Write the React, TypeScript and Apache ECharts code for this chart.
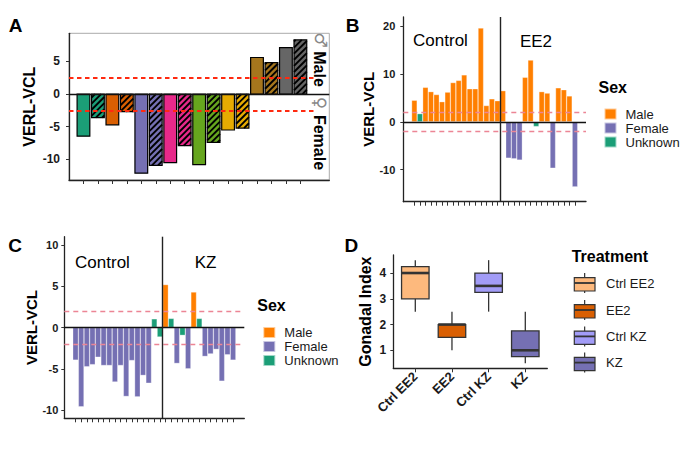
import React, { useEffect, useRef } from 'react';
import * as echarts from 'echarts';

const FONT = "'Liberation Sans', Arial, Helvetica, sans-serif";

// ---------- Panel A ----------
const aValues = [-6.45, -3.6, -4.7, -2.7, -12.1, -10.9, -10.5, -7.9, -10.8, -7.4, -5.5, -5.2, 5.6, 4.8, 7.1, 8.3];
const aHatched = [false, true, false, true, false, true, false, true, false, true, false, true, false, true, false, true];
const aThreshold = 2.5;
const aYTicks = [-10, -5, 0, 5];
const aStrip = ['Male', 'Female'];

// ---------- Panel B ----------
const bGroups = ['Control', 'EE2'];
const bControlN = 16;
const bValues = [4.5, 1.7, 7.2, 6.3, 5.7, 4.2, 6.2, 8.2, 8.65, 9.8, 6.9, 6.9, 19.6, 3.4, 4.8, 4.4,
  6.5, -7.6, -7.75, -8.0, 9.3, 12.9, -1.0, 6.3, 6.0, -9.7, 7.1, 6.7, 5.4, -13.6];
const bSex = ['Male', 'Unknown', 'Male', 'Male', 'Male', 'Male', 'Male', 'Male', 'Male', 'Male', 'Male', 'Male', 'Male', 'Male', 'Male', 'Male',
  'Male', 'Female', 'Female', 'Female', 'Male', 'Male', 'Unknown', 'Male', 'Male', 'Female', 'Male', 'Male', 'Male', 'Female'];
const bYTicks = [-10, 0, 10, 20];

// ---------- Panel C ----------
const cGroups = ['Control', 'KZ'];
const cControlN = 16;
const cValues = [-3.95, -9.6, -4.75, -4.5, -3.6, -4.6, -4.6, -6.6, -4.6, -8.35, -4.0, -8.4, -5.8, -6.75, 1.05, -1.15,
  5.2, 1.1, -4.35, -0.95, -5.0, 4.3, 1.1, -3.5, -3.2, -2.65, -6.5, -3.3, -3.95];
const cSex = ['Female', 'Female', 'Female', 'Female', 'Female', 'Female', 'Female', 'Female', 'Female', 'Female', 'Female', 'Female', 'Female', 'Female', 'Unknown', 'Unknown',
  'Male', 'Unknown', 'Female', 'Unknown', 'Female', 'Male', 'Unknown', 'Female', 'Female', 'Female', 'Female', 'Female', 'Female'];
const cYTicks = [-10, -5, 0, 5, 10];

const sexLevels = ['Male', 'Female', 'Unknown'];
const sexThreshold = 2;

// ---------- Panel D ----------
const dCategories = ['Ctrl EE2', 'EE2', 'Ctrl KZ', 'KZ'];
const dMin = [2.5, 1.0, 2.5, 0.5];
const dQ1 = [3.0, 1.5, 3.25, 0.75];
const dMedian = [4.0, 2.0, 3.5, 1.0];
const dQ3 = [4.25, 2.0, 4.0, 1.75];
const dMax = [4.5, 2.5, 4.5, 2.5];
const dYTicks = [1, 2, 3, 4];

// ---------- styles ----------
const aPalette = ['#1B9E77', '#D95F02', '#7570B3', '#E7298A', '#66A61E', '#E6AB02', '#A6761D', '#666666'];
const sexColors: Record<string, string> = { Male: '#FF7F00', Female: '#7570B3', Unknown: '#1B9E77' };
const dColors = ['#FDB97D', '#D95F02', '#A29CF7', '#7570B3'];
const INK = '#1a1a1a';

const tickLabel = (size: number, margin: number) => ({
  fontSize: size, fontWeight: 'bold' as const, color: INK, fontFamily: FONT, margin,
});
const axisLine = { show: true, onZero: false, lineStyle: { color: '#222', width: 1.3 } };
const yName = { fontSize: 15, fontWeight: 'bold' as const, color: '#000', fontFamily: FONT };

function padCats(prefix: string, n: number, before: number, after: number) {
  const out: string[] = [];
  for (let i = 0; i < n + before + after; i++) out.push(prefix + i);
  return out;
}

const aCats = padCats('a', aValues.length, 1, 2);
const bCats = padCats('b', bValues.length, 2, 2);
const cCats = padCats('c', cValues.length, 2, 2);

function sexSeries(values: number[], sex: string[], cats: string[], xi: number, yi: number, withLines: boolean) {
  return sexLevels.map((s, si) => ({
    type: 'bar',
    name: s,
    xAxisIndex: xi,
    yAxisIndex: yi,
    barWidth: '100%',
    barGap: '-100%',
    itemStyle: { color: sexColors[s], borderColor: 'rgba(255,255,255,0.6)', borderWidth: 0.5 },
    data: cats.map((_, i) => {
      const k = i - 2;
      return k >= 0 && k < values.length && sex[k] === s ? values[k] : '-';
    }),
    markLine: withLines && si === 0 ? {
      silent: true, symbol: ['none', 'none'], label: { show: false }, animation: false,
      data: [
        { yAxis: sexThreshold, lineStyle: { type: [5, 4], color: '#EC8595', width: 1.3 } },
        { yAxis: -sexThreshold, lineStyle: { type: [5, 4], color: '#EC8595', width: 1.3 } },
        { yAxis: 0, lineStyle: { type: 'solid', color: '#111', width: 1.4 } },
      ],
    } : undefined,
  }));
}

function separator(xi: number, yi: number, pos: number) {
  return {
    type: 'line', xAxisIndex: xi, yAxisIndex: yi, symbol: 'none', silent: true,
    lineStyle: { width: 0 },
    data: [[pos, 0]],
    markLine: {
      silent: true, symbol: ['none', 'none'], label: { show: false }, animation: false,
      data: [{ xAxis: pos, lineStyle: { type: 'solid', color: '#222', width: 1.4 } }],
    },
  };
}

// "/" hatching clipped to a rectangle
function hatchLines(x0: number, x1: number, yTop: number, yBot: number) {
  const step = 6.1; // along x+y
  const out: any[] = [];
  const cStart = Math.ceil((x0 + yTop) / step) * step;
  for (let c = cStart; c <= x1 + yBot; c += step) {
    const xa = Math.max(x0, c - yBot);
    const xb = Math.min(x1, c - yTop);
    if (xb - xa > 0.2) {
      out.push({
        type: 'line',
        shape: { x1: xa, y1: c - xa, x2: xb, y2: c - xb },
        style: { stroke: '#000', lineWidth: 1.9 },
      });
    }
  }
  return out;
}

const sexLegend = (left: number, top: number) => ({
  data: sexLevels, left, top, orient: 'vertical', icon: 'rect',
  itemWidth: 12, itemHeight: 11, itemGap: 1, selectedMode: false,
  textStyle: { fontSize: 13, color: INK, fontFamily: FONT, lineHeight: 12, padding: [0, 0, 0, 4] },
});

function dKey(i: number, cy: number) {
  const x0 = 574.3, w = 20.7, cx = x0 + w / 2;
  return {
    type: 'group',
    children: [
      { type: 'line', shape: { x1: cx, y1: cy - 10, x2: cx, y2: cy + 10 }, style: { stroke: '#333', lineWidth: 1.2 } },
      { type: 'rect', shape: { x: x0, y: cy - 5.3, width: w, height: 13.3 }, style: { fill: dColors[i], stroke: '#333', lineWidth: 1.2 } },
      { type: 'line', shape: { x1: x0, y1: cy, x2: x0 + w, y2: cy }, style: { stroke: '#333', lineWidth: 1.8 } },
      { type: 'text', x: 606, y: cy, style: { text: dCategories[i], fontSize: 13, fontFamily: FONT, fill: INK, align: 'left', verticalAlign: 'middle' } },
    ],
  };
}

const panelLetter = (t: string, x: number, y: number) => ({
  type: 'text', x, y, style: { text: t, fontSize: 19, fontWeight: 'bold', fontFamily: FONT, fill: '#000', align: 'center', verticalAlign: 'middle' },
});
const plainText = (t: string, x: number, y: number, size: number, extra: any = {}) => ({
  type: 'text', x, y, ...extra,
  style: { text: t, fontSize: size, fontFamily: FONT, fill: '#000', align: 'center', verticalAlign: 'middle', ...(extra.style || {}) },
});

const option: any = {
  animation: false,
  textStyle: { fontFamily: FONT },
  grid: [
    { left: 69, top: 33.3, width: 260.3, height: 146.7, show: true, borderColor: '#aaa', borderWidth: 1, containLabel: false, outerBoundsMode: 'none' },
    { left: 403.3, top: 17, width: 182.7, height: 184.7, containLabel: false, outerBoundsMode: 'none' },
    { left: 64.3, top: 236.7, width: 180, height: 181.6, containLabel: false, outerBoundsMode: 'none' },
    { left: 393.3, top: 255, width: 154, height: 113.3, containLabel: false, outerBoundsMode: 'none' },
  ],
  xAxis: [
    {
      type: 'category', gridIndex: 0, data: aCats, boundaryGap: false, axisLine,
      axisTick: { show: true, length: 4, lineStyle: { color: '#333' }, interval: (i: number) => i >= 1 && i <= aValues.length },
      axisLabel: { show: false }, splitLine: { show: false },
    },
    {
      type: 'category', gridIndex: 1, data: bCats, boundaryGap: false, axisLine,
      axisTick: { show: true, length: 4, lineStyle: { color: '#333' }, interval: (i: number) => i >= 2 && i < bValues.length + 2 },
      axisLabel: { show: false }, splitLine: { show: false },
    },
    { type: 'value', gridIndex: 1, min: 0, max: bCats.length - 1, show: false },
    {
      type: 'category', gridIndex: 2, data: cCats, boundaryGap: false, axisLine,
      axisTick: { show: true, length: 4, lineStyle: { color: '#333' }, interval: (i: number) => i >= 2 && i < cValues.length + 2 },
      axisLabel: { show: false }, splitLine: { show: false },
    },
    { type: 'value', gridIndex: 2, min: 0, max: cCats.length - 1, show: false },
    {
      type: 'value', gridIndex: 3, min: -0.6, max: dCategories.length - 0.4, axisLine,
      axisTick: { show: true, length: 4, lineStyle: { color: '#333' }, customValues: dCategories.map((_, i) => i) },
      axisLabel: { ...tickLabel(13, 6), rotate: 45, customValues: dCategories.map((_, i) => i), formatter: (v: number) => dCategories[Math.round(v)] ?? '' },
      splitLine: { show: false },
    },
  ],
  yAxis: [
    {
      type: 'value', gridIndex: 0, min: -13.15, max: 9.3, axisLine,
      axisTick: { show: true, length: 3, lineStyle: { color: '#333' }, customValues: aYTicks },
      axisLabel: { ...tickLabel(12, 9), customValues: aYTicks },
      splitLine: { show: false },
      name: 'VERL-VCL', nameLocation: 'middle', nameGap: 32, nameTextStyle: { ...yName, fontSize: 16 },
    },
    {
      type: 'value', gridIndex: 1, min: -16.7, max: 21.9, axisLine,
      axisTick: { show: true, length: 3, lineStyle: { color: '#333' }, customValues: bYTicks },
      axisLabel: { ...tickLabel(11, 8), customValues: bYTicks },
      splitLine: { show: false },
      name: 'VERL-VCL', nameLocation: 'middle', nameGap: 23, nameTextStyle: yName,
    },
    {
      type: 'value', gridIndex: 2, min: -11, max: 11, axisLine,
      axisTick: { show: true, length: 3, lineStyle: { color: '#333' }, customValues: cYTicks },
      axisLabel: { ...tickLabel(11, 6), customValues: cYTicks },
      splitLine: { show: false },
      name: 'VERL-VCL', nameLocation: 'middle', nameGap: 24, nameTextStyle: yName,
    },
    {
      type: 'value', gridIndex: 3, min: 0.3, max: 4.7, axisLine,
      axisTick: { show: true, length: 3, lineStyle: { color: '#333' }, customValues: dYTicks },
      axisLabel: { ...tickLabel(12, 7), customValues: dYTicks },
      splitLine: { show: false },
      name: 'Gonadal Index', nameLocation: 'middle', nameGap: 20, nameTextStyle: { ...yName, fontSize: 16 },
    },
  ],
  legend: [sexLegend(598.5, 102.5), sexLegend(257.3, 321)],
  series: [
    {
      type: 'custom', name: 'A', xAxisIndex: 0, yAxisIndex: 0,
      data: aValues.map((v, k) => [k + 1, v, aHatched[k] ? 1 : 0, k]),
      encode: { x: 0, y: 1 },
      renderItem: (params: any, api: any) => {
        const xi = api.value(0);
        const v = api.value(1);
        const hatched = api.value(2) === 1;
        const k = api.value(3);
        const pBase = api.coord([xi, 0]);
        const pTop = api.coord([xi, v]);
        const w = api.size([1, 0])[0] * 0.88;
        const x0 = pBase[0] - w / 2, x1 = pBase[0] + w / 2;
        const yTop = Math.min(pBase[1], pTop[1]), yBot = Math.max(pBase[1], pTop[1]);
        const children: any[] = [
          { type: 'rect', shape: { x: x0, y: yTop, width: w, height: yBot - yTop }, style: { fill: aPalette[Math.floor(k / 2)] } },
        ];
        if (hatched) children.push(...hatchLines(x0, x1, yTop, yBot));
        children.push({ type: 'rect', shape: { x: x0, y: yTop, width: w, height: yBot - yTop }, style: { fill: 'none', stroke: '#000', lineWidth: 1.2 } });
        return { type: 'group', children };
      },
      markLine: {
        silent: true, symbol: ['none', 'none'], label: { show: false }, animation: false,
        data: [
          [{ coord: [0, aThreshold] }, { coord: [aValues.length + 1, aThreshold] }],
          [{ coord: [0, -aThreshold] }, { coord: [aValues.length + 1, -aThreshold] }],
          { yAxis: 0, lineStyle: { type: 'solid', color: '#111', width: 1.3 } },
        ],
        lineStyle: { type: [4.5, 3.5], color: '#FF2A10', width: 1.9 },
      },
    },
    ...sexSeries(bValues, bSex, bCats, 1, 1, true),
    separator(2, 1, bControlN + 1.5),
    ...sexSeries(cValues, cSex, cCats, 3, 2, true),
    separator(4, 2, cControlN + 1.5),
    {
      type: 'custom', xAxisIndex: 5, yAxisIndex: 3,
      data: dCategories.map((_, i) => [i, dMin[i], dQ1[i], dMedian[i], dQ3[i], dMax[i]]),
      encode: { x: 0, y: [1, 2, 3, 4, 5] },
      renderItem: (params: any, api: any) => {
        const x = api.value(0);
        const idx = params.dataIndex;
        const cx = api.coord([x, api.value(1)])[0];
        const yMin = api.coord([x, api.value(1)])[1];
        const yQ1 = api.coord([x, api.value(2)])[1];
        const yMed = api.coord([x, api.value(3)])[1];
        const yQ3 = api.coord([x, api.value(4)])[1];
        const yMax = api.coord([x, api.value(5)])[1];
        const half = api.size([0.75, 0])[0] / 2;
        const stroke = '#333';
        return {
          type: 'group',
          children: [
            { type: 'line', shape: { x1: cx, y1: yMax, x2: cx, y2: yQ3 }, style: { stroke, lineWidth: 1.3 } },
            { type: 'line', shape: { x1: cx, y1: yQ1, x2: cx, y2: yMin }, style: { stroke, lineWidth: 1.3 } },
            { type: 'rect', shape: { x: cx - half, y: yQ3, width: half * 2, height: yQ1 - yQ3 }, style: { fill: dColors[idx], stroke, lineWidth: 1.3 } },
            { type: 'line', shape: { x1: cx - half, y1: yMed, x2: cx + half, y2: yMed }, style: { stroke, lineWidth: 2.6 } },
          ],
        };
      },
    },
  ],
  graphic: [
    panelLetter('A', 15.5, 25),
    panelLetter('B', 352.5, 25.5),
    panelLetter('C', 15, 245.5),
    panelLetter('D', 351.3, 245.3),
    // Panel A strip labels
    plainText('♂', 320.5, 40, 17, { rotation: -Math.PI / 2, style: { fill: '#888', fontFamily: "'DejaVu Sans', sans-serif" } }),
    plainText(aStrip[0], 319.5, 69, 16, { rotation: -Math.PI / 2, style: { fontWeight: 'bold' } }),
    plainText('♀', 319.5, 103, 17, { rotation: -Math.PI / 2, style: { fill: '#888', fontFamily: "'DejaVu Sans', sans-serif" } }),
    plainText(aStrip[1], 319.5, 142.5, 16, { rotation: -Math.PI / 2, style: { fontWeight: 'bold' } }),
    // Panel B annotations
    plainText(bGroups[0], 440.5, 40.5, 17),
    plainText(bGroups[1], 536, 41, 17),
    { type: 'text', x: 598.5, y: 87.5, style: { text: 'Sex', fontSize: 16, fontWeight: 'bold', fontFamily: FONT, fill: '#000', align: 'left', verticalAlign: 'middle' } },
    // Panel C annotations
    plainText(cGroups[0], 102.5, 262, 17),
    plainText(cGroups[1], 205.5, 262, 17),
    { type: 'text', x: 257.3, y: 305, style: { text: 'Sex', fontSize: 16, fontWeight: 'bold', fontFamily: FONT, fill: '#000', align: 'left', verticalAlign: 'middle' } },
    // Panel D legend
    { type: 'text', x: 571.7, y: 256.7, style: { text: 'Treatment', fontSize: 16, fontWeight: 'bold', fontFamily: FONT, fill: '#000', align: 'left', verticalAlign: 'middle' } },
    dKey(0, 283),
    dKey(1, 310),
    dKey(2, 336.4),
    dKey(3, 362.6),
  ],
};

export default function App() {
  const ref = useRef<HTMLDivElement>(null);
  useEffect(() => {
    document.body.style.margin = '0';
    const chart = echarts.init(ref.current!, null, { renderer: 'svg' });
    chart.setOption(option);
    return () => chart.dispose();
  }, []);
  return <div ref={ref} style={{ width: 685, height: 452 }} />;
}
